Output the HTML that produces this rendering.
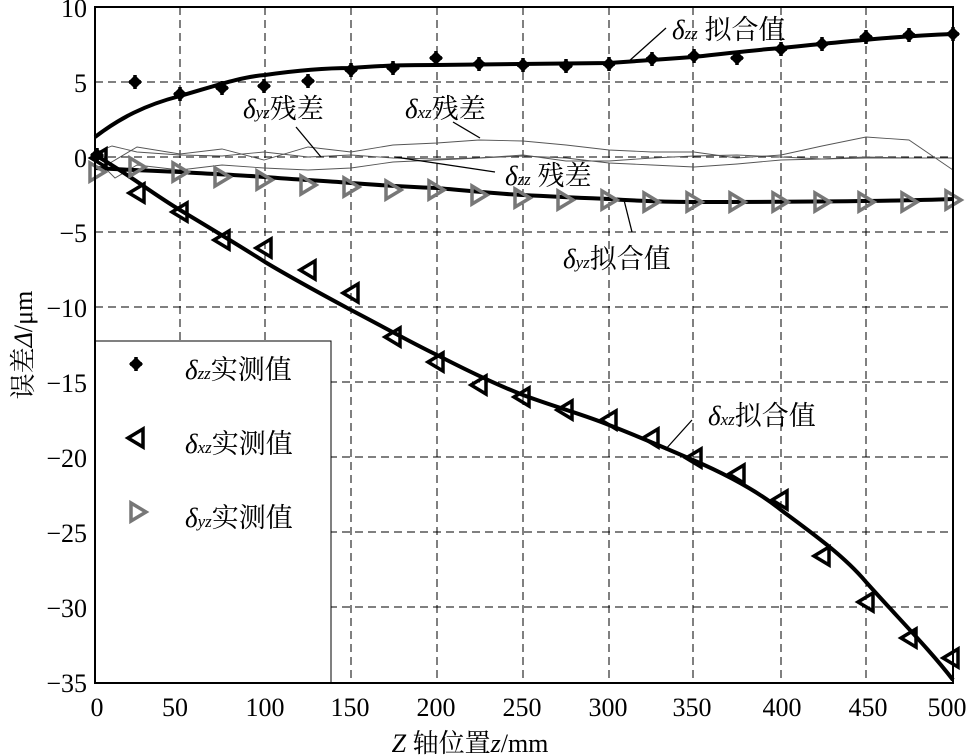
<!DOCTYPE html>
<html><head><meta charset="utf-8"><style>
html,body{margin:0;padding:0;background:#fff;}
svg{display:block;}
text{font-family:"Liberation Serif","Noto Serif CJK SC",serif;fill:#000;}
</style></head><body>
<svg width="970" height="756" viewBox="0 0 970 756" xmlns="http://www.w3.org/2000/svg">
<defs>
<g id="dia"><path d="M0,-7 L7,0 L0,7 L-7,0 Z" fill="#000"/><path d="M-6,0 H6 M0,-7 V7" stroke="#000" stroke-width="3.5"/></g>
<path id="tl" d="M-8,0 L7,-9 L7,9 Z" fill="none" stroke="#000" stroke-width="3.5"/>
<path id="tr" d="M8,0 L-7,-9 L-7,9 Z" fill="none" stroke="#777" stroke-width="3.5"/>
</defs>
<g stroke="#000" stroke-width="1" stroke-dasharray="8,5" fill="none">
<path d="M180,7V683 M265,7V683 M351,7V683 M437,7V683 M523,7V683 M609,7V683 M693,7V683 M781,7V683 M866,7V683"/>
<path d="M95,82H953 M95,157H953 M95,232H953 M95,307H953 M95,382H953 M95,457H953 M95,532H953 M95,607H953"/>
</g>
<g fill="none" stroke="#555" stroke-width="0.9">
<polyline points="97,150 110,163 137,147 180,154 222,149 264,160 308,147 351,152 393,145 437,143 479,140 523,141 566,145 609,150 652,152 694,152 737,158 781,155 822,146 866,137 909,140 953,170"/>
<polyline points="97,152 112,146 137,152 180,155 222,156 264,152 308,157 351,155 393,158 437,159 479,158 523,155 566,161 609,161 652,158 694,156 737,155 781,157 822,159 866,157 909,158 953,158"/>
<polyline points="97,160 115,178 137,165 180,170 222,165 264,168 308,170 351,168 393,162 437,160 479,158 523,156 566,158 609,163 652,165 694,167 737,164 781,160 822,159 866,158 909,158 953,158"/>
</g>
<g fill="none" stroke="#000" stroke-width="4" stroke-linejoin="round">
<path d="M95,137 C120,118 145,105 180,96 C215,86 240,77 265,75 C300,70 325,68 351,68 C390,65 410,65 437,65 L609,63 C640,61 665,59 693,57 C730,53 755,50 781,48 C850,41 900,36 953,34"/>
<path d="M95,155 C130,175 150,192 180,210 C210,228 240,246 265,262 C295,280 325,296 351,310 C380,325 410,342 437,355 C470,372 500,386 523,395 C555,407 585,415 609,425 C640,437 665,448 693,460 C730,476 760,493 781,510 C815,535 845,557 866,582 C900,620 930,650 953,680"/>
<path d="M95,168 C130,170 155,171 180,172 C210,174 240,175 265,177 C300,180 330,181 351,183 C390,186 410,187 437,188 C480,192 500,194 523,195 C560,197 585,198 609,199 C640,201 665,202 693,202 C800,202 900,201 953,199"/>
</g>
<g>
<use href="#dia" x="135" y="82"/><use href="#dia" x="180" y="94"/><use href="#dia" x="222" y="88"/><use href="#dia" x="264" y="86"/><use href="#dia" x="308" y="81"/><use href="#dia" x="351" y="70"/><use href="#dia" x="393" y="68"/><use href="#dia" x="436" y="58"/><use href="#dia" x="479" y="64"/><use href="#dia" x="523" y="65"/><use href="#dia" x="566" y="66"/><use href="#dia" x="609" y="64"/><use href="#dia" x="652" y="59"/><use href="#dia" x="694" y="56"/><use href="#dia" x="737" y="58"/><use href="#dia" x="781" y="49"/><use href="#dia" x="822" y="44"/><use href="#dia" x="866" y="37"/><use href="#dia" x="909" y="35"/><use href="#dia" x="953" y="34"/>
</g>
<g>
<use href="#tr" x="97" y="172"/><use href="#tr" x="137" y="167"/><use href="#tr" x="180" y="172"/><use href="#tr" x="222" y="177"/><use href="#tr" x="264" y="180"/><use href="#tr" x="308" y="185"/><use href="#tr" x="351" y="187"/><use href="#tr" x="393" y="190"/><use href="#tr" x="436" y="190"/><use href="#tr" x="479" y="195"/><use href="#tr" x="522" y="198"/><use href="#tr" x="565" y="200"/><use href="#tr" x="609" y="200"/><use href="#tr" x="651" y="202"/><use href="#tr" x="694" y="202"/><use href="#tr" x="737" y="202"/><use href="#tr" x="780" y="202"/><use href="#tr" x="822" y="202"/><use href="#tr" x="866" y="202"/><use href="#tr" x="909" y="202"/><use href="#tr" x="953" y="200"/>
</g>
<g>
<use href="#tl" x="99" y="158"/><use href="#tl" x="137" y="193"/><use href="#tl" x="180" y="212"/><use href="#tl" x="222" y="240"/><use href="#tl" x="264" y="248"/><use href="#tl" x="308" y="270"/><use href="#tl" x="351" y="293"/><use href="#tl" x="393" y="337"/><use href="#tl" x="436" y="362"/><use href="#tl" x="479" y="385"/><use href="#tl" x="522" y="397"/><use href="#tl" x="565" y="410"/><use href="#tl" x="609" y="420"/><use href="#tl" x="651" y="438"/><use href="#tl" x="694" y="458"/><use href="#tl" x="737" y="474"/><use href="#tl" x="780" y="500"/><use href="#tl" x="822" y="556"/><use href="#tl" x="866" y="602"/><use href="#tl" x="909" y="638"/><use href="#tl" x="951" y="658"/>
</g>
<use href="#dia" x="97" y="155"/>
<g stroke="#000" stroke-width="1.3">
<line x1="628" y1="62" x2="666" y2="28"/>
<line x1="296" y1="127" x2="321" y2="157"/>
<line x1="453" y1="122" x2="480" y2="138"/>
<line x1="395" y1="157" x2="495" y2="172"/>
<line x1="624" y1="200" x2="632" y2="232"/>
<line x1="665" y1="450" x2="692" y2="420"/>
</g>
<g font-size="27">
<text x="672" y="39"><tspan font-style="italic">δ</tspan><tspan font-style="italic" font-size="17">zz</tspan> 拟合值</text>
<text x="243" y="118"><tspan font-style="italic">δ</tspan><tspan font-style="italic" font-size="17">yz</tspan>残差</text>
<text x="405" y="118"><tspan font-style="italic">δ</tspan><tspan font-style="italic" font-size="17">xz</tspan>残差</text>
<text x="505" y="185"><tspan font-style="italic">δ</tspan><tspan font-style="italic" font-size="17">zz</tspan> 残差</text>
<text x="563" y="268"><tspan font-style="italic">δ</tspan><tspan font-style="italic" font-size="17">yz</tspan>拟合值</text>
<text x="708" y="425"><tspan font-style="italic">δ</tspan><tspan font-style="italic" font-size="17">xz</tspan>拟合值</text>
</g>
<rect x="95" y="341" width="236" height="342" fill="#fff" stroke="#000" stroke-width="1"/>
<use href="#dia" x="136" y="364"/>
<use href="#tl" x="136" y="438"/>
<use href="#tr" x="138" y="512"/>
<g font-size="27">
<text x="185" y="379"><tspan font-style="italic">δ</tspan><tspan font-style="italic" font-size="17">zz</tspan>实测值</text>
<text x="185" y="453"><tspan font-style="italic">δ</tspan><tspan font-style="italic" font-size="17">xz</tspan>实测值</text>
<text x="185" y="527"><tspan font-style="italic">δ</tspan><tspan font-style="italic" font-size="17">yz</tspan>实测值</text>
</g>
<rect x="95" y="7" width="858" height="676" fill="none" stroke="#000" stroke-width="2"/>
<g font-size="26" text-anchor="end">
<text x="87" y="17">10</text><text x="87" y="92">5</text><text x="87" y="167">0</text>
<text x="87" y="242">−5</text><text x="87" y="317">−10</text><text x="87" y="392">−15</text>
<text x="87" y="467">−20</text><text x="87" y="542">−25</text><text x="87" y="617">−30</text><text x="87" y="692">−35</text>
</g>
<g font-size="26" text-anchor="middle">
<text x="97" y="716">0</text><text x="175" y="716">50</text><text x="265" y="716">100</text><text x="350" y="716">150</text><text x="436" y="716">200</text><text x="522" y="716">250</text><text x="608" y="716">300</text><text x="692" y="716">350</text><text x="782" y="716">400</text><text x="868" y="716">450</text><text x="947" y="716">500</text>
</g>
<text x="470" y="752" font-size="26" text-anchor="middle"><tspan font-style="italic">Z</tspan> 轴位置<tspan font-style="italic">z</tspan>/mm</text>
<text transform="translate(32,345) rotate(-90)" font-size="26" text-anchor="middle">误差<tspan font-style="italic">Δ</tspan>/μm</text>
</svg>
</body></html>
